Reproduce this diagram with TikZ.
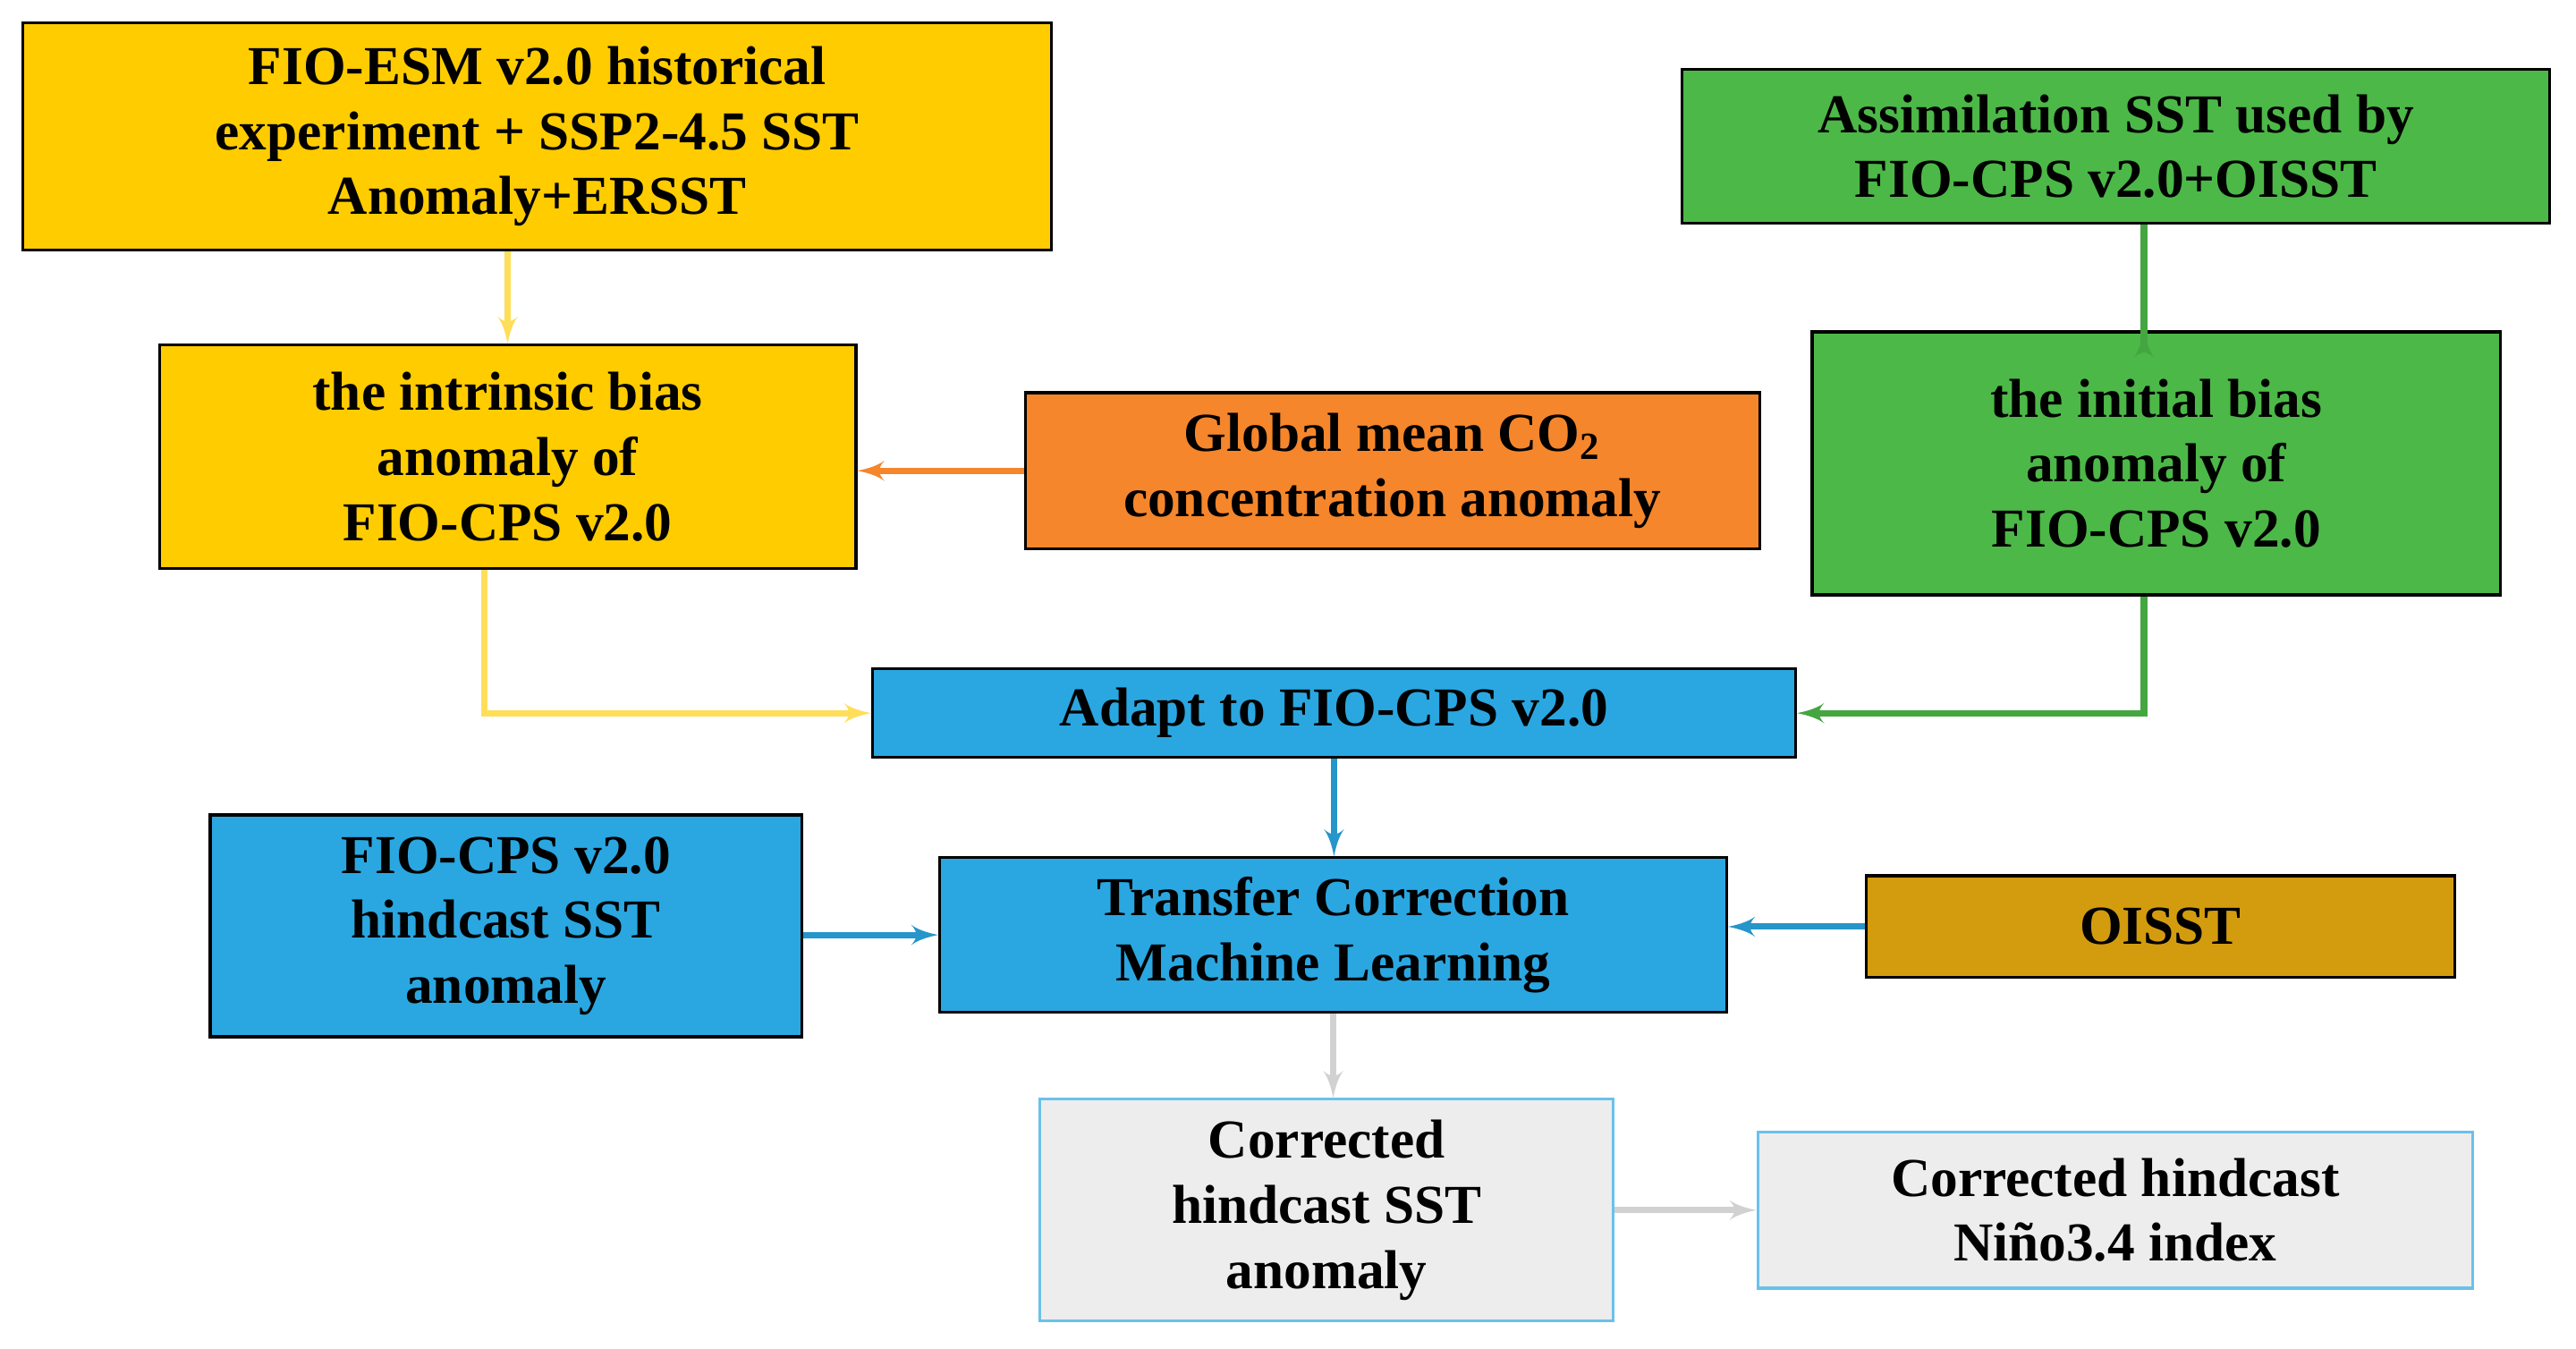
\documentclass[tikz,border=0pt]{standalone}
\usepackage{fontspec}
\setmainfont{Liberation Serif}
\usetikzlibrary{shapes,arrows}
\definecolor{cyellow}{HTML}{FFCC00}
\definecolor{cgreen}{HTML}{4CB847}
\definecolor{corange}{HTML}{F5862B}
\definecolor{cblue}{HTML}{2AA7E1}
\definecolor{cgold}{HTML}{D39C0E}
\definecolor{cgray}{HTML}{EDEDED}
\begin{document}
\begin{tikzpicture}[
    block/.style ={rectangle, draw=black, line width=1pt, inner sep=0pt,
      align=center, font=\fontsize{19}{22.5}\selectfont\bfseries},
    block_gray/.style ={block, draw=cblue!70, fill=cgray},
    line/.style ={draw, line width=2.2pt, -latex', shorten >=0pt}]
  \useasboundingbox (0,0) rectangle (31.36,-16.42);
  % boxes
  \node [block, fill=cyellow, minimum width=12.52cm, minimum height=2.76cm] (esm) at (6.54,-1.66)
    {FIO-ESM v2.0 historical\\experiment + SSP2-4.5 SST\\Anomaly+ERSST};
  \node [block, fill=cgreen, minimum width=10.56cm, minimum height=1.88cm] (assim) at (25.76,-1.78)
    {Assimilation SST used by\\FIO-CPS v2.0+OISST};
  \node [block, fill=cyellow, minimum width=8.48cm, minimum height=2.72cm] (intrinsic) at (6.18,-5.56)
    {the intrinsic bias\\anomaly of\\FIO-CPS v2.0};
  \node [block, fill=corange, minimum width=8.94cm, minimum height=1.90cm] (co2) at (16.95,-5.73)
    {Global mean CO\textsubscript{2}\\concentration anomaly};
  \node [block, fill=cgreen, minimum width=8.38cm, minimum height=3.20cm] (initial) at (26.25,-5.64)
    {the initial bias\\anomaly of\\FIO-CPS v2.0};
  \node [block, fill=cblue, minimum width=11.24cm, minimum height=1.08cm] (adapt) at (16.24,-8.68)
    {Adapt to FIO-CPS v2.0};
  \node [block, fill=cblue, minimum width=7.2cm, minimum height=2.7cm] (hind) at (6.16,-11.27)
    {FIO-CPS v2.0\\hindcast SST\\anomaly};
  \node [block, fill=cblue, minimum width=9.58cm, minimum height=1.88cm] (transfer) at (16.23,-11.38)
    {Transfer Correction\\Machine Learning};
  \node [block, fill=cgold, minimum width=7.16cm, minimum height=1.24cm] (oisst) at (26.30,-11.28)
    {OISST};
  \node [block_gray, minimum width=6.98cm, minimum height=2.70cm] (corr) at (16.15,-14.73)
    {Corrected\\hindcast SST\\anomaly};
  \node [block_gray, minimum width=8.70cm, minimum height=1.90cm] (nino) at (25.75,-14.73)
    {Corrected hindcast\\Niño3.4 index};
  % connectors
  \begin{scope}[every path/.style=line]
    \path [draw=cyellow!65] (esm.south -| intrinsic) -- (intrinsic.north);
    \path [draw=cgreen!90!black] (assim.south -| 26.1,0) -- (intrinsic.north -| 26.1,0) -- (initial.north -| 26.1,0);
    \path [draw=corange] (co2.west) -- (intrinsic.east |- co2.west);
    \path [draw=cyellow!65] (intrinsic.south -| 5.9,0) |- (adapt.west);
    \path [draw=cgreen!90!black] (initial.south -| 26.1,0) |- (adapt.east);
    \path [draw=cblue!90!black] (adapt.south) -- (transfer.north -| adapt.south);
    \path [draw=cblue!90!black] (hind.east |- transfer.west) -- (transfer.west);
    \path [draw=cblue!90!black] (oisst.west) -- (transfer.east |- oisst.west);
    \path [draw=black!18] (transfer.south) -- (corr.north -| transfer.south);
    \path [draw=black!18] (corr.east) -- (nino.west);
  \end{scope}
\end{tikzpicture}
\end{document}
